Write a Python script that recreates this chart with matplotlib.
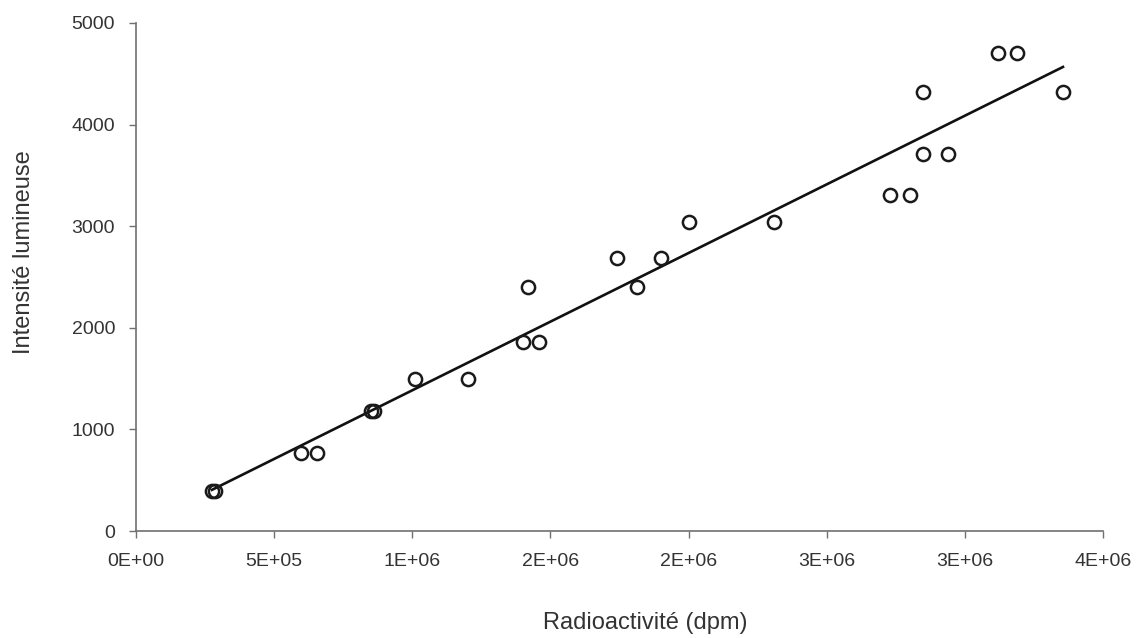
import matplotlib.pyplot as plt
import numpy as np

# data (dpm vs light intensity)
radio = [2.75e5, 2.85e5, 5.98e5, 6.56e5, 8.5e5, 8.6e5, 1.01e6, 1.20e6,
         1.40e6, 1.46e6, 1.42e6, 1.815e6, 1.74e6, 1.90e6, 2.00e6, 2.31e6,
         2.73e6, 2.80e6, 2.85e6, 2.94e6, 2.85e6, 3.355e6, 3.12e6, 3.19e6]
intensite = [390, 390, 770, 770, 1180, 1180, 1500, 1500,
             1860, 1860, 2400, 2400, 2690, 2690, 3040, 3040,
             3310, 3310, 3710, 3710, 4320, 4320, 4700, 4700]

x_ticks = [0, 5e5, 1e6, 1.5e6, 2e6, 2.5e6, 3e6, 3.5e6]
x_tick_labels = ['0E+00', '5E+05', '1E+06', '2E+06', '2E+06', '3E+06', '3E+06', '4E+06']
y_ticks = [0, 1000, 2000, 3000, 4000, 5000]

plt.rcParams['font.family'] = ['Liberation Sans', 'DejaVu Sans']

fig = plt.figure(figsize=(11.36, 6.38), dpi=100)
ax = fig.add_axes([0.1197, 0.1677, 0.8513, 0.7963])

x = np.array(radio)
y = np.array(intensite)

# linear trendline across the data range
slope, intercept = np.polyfit(x, y, 1)
xl = np.array([x.min(), x.max()])
ax.plot(xl, slope * xl + intercept, color='#111111', linewidth=1.9, zorder=2)

ax.plot(x, y, 'o', markerfacecolor='none', markeredgecolor='#1a1a1a',
        markersize=9.5, markeredgewidth=1.8, zorder=3)

ax.set_xlim(0, 3.5e6)
ax.set_ylim(0, 5000)
ax.set_xticks(x_ticks)
ax.set_xticklabels(x_tick_labels)
ax.set_yticks(y_ticks)

for side in ('top', 'right'):
    ax.spines[side].set_visible(False)
for side in ('left', 'bottom'):
    ax.spines[side].set_color('#707070')
    ax.spines[side].set_linewidth(1.2)

ax.tick_params(direction='out', length=5, width=1, color='#707070',
               labelsize=14, labelcolor='#333333')
ax.tick_params(axis='x', pad=11)
ax.tick_params(axis='y', pad=10)

ax.set_xlabel('Radioactivité (dpm)', fontsize=17, color='#333333', va='center')
ax.set_ylabel('Intensité lumineuse', fontsize=17, color='#333333', va='center')
ax.xaxis.set_label_coords(0.5 + (645 - 619) / 966, -0.181)
ax.yaxis.set_label_coords(-0.116, 0.5 + (531 - 252 - 254) / 508)

fig.savefig('out.png', dpi=100)
